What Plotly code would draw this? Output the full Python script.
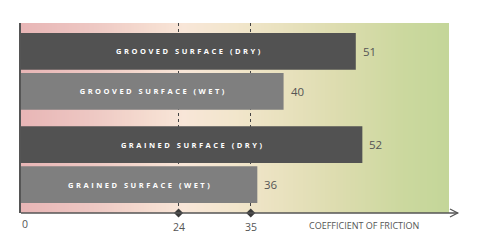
import base64, struct, zlib
import plotly.graph_objects as go

# ---- data ----
groups = ["GROOVED SURFACE", "GRAINED SURFACE"]
conditions = ["DRY", "WET"]
dry_values = [51, 52]
wet_values = [40, 36]
tick_values = [0, 24, 35]
tick_labels = ["0", "24", "35"]
axis_title = "COEFFICIENT OF FRICTION"

# ---- styles ----
DARK = "#525252"
LIGHT = "#7f7f7f"
TXT = "#555555"
FONT = "Open Sans"
XMAX = 65.2


def spaced(s):
    words = s.split(" ")
    return "\u2004 \u2004".join("\u2004".join(w) for w in words)


def gradient_png(stops, n=256):
    def hx(c):
        return [int(c[i:i + 2], 16) for i in (1, 3, 5)]
    row = bytearray()
    for i in range(n):
        t = i / (n - 1)
        for k in range(len(stops) - 1):
            p0, c0 = stops[k]
            p1, c1 = stops[k + 1]
            if p0 <= t <= p1:
                f = (t - p0) / (p1 - p0) if p1 > p0 else 0
                a, b = hx(c0), hx(c1)
                row += bytes(int(round(a[j] + (b[j] - a[j]) * f)) for j in range(3))
                break
    raw = b"\x00" + bytes(row)

    def chunk(tag, data):
        c = struct.pack(">I", len(data)) + tag + data
        return c + struct.pack(">I", zlib.crc32(tag + data) & 0xFFFFFFFF)
    png = b"\x89PNG\r\n\x1a\n" + chunk(b"IHDR", struct.pack(">IIBBBBB", n, 1, 8, 2, 0, 0, 0))
    png += chunk(b"IDAT", zlib.compress(raw)) + chunk(b"IEND", b"")
    return "data:image/png;base64," + base64.b64encode(png).decode()


bg_stops = [(0.0, "#e8b6b6"), (0.15, "#edc6c2"), (0.30, "#f5dcd0"), (0.38, "#f8e6d8"),
            (0.50, "#f2e6cc"), (0.60, "#eae2c0"), (0.75, "#dcdcae"), (0.90, "#cbd89e"),
            (1.0, "#c4d699")]

OFF = 0.215
W = 0.395
fig = go.Figure()

series = [("DRY", dry_values, DARK, -OFF), ("WET", wet_values, LIGHT, OFF)]
for cond, vals, col, off in series:
    ys = [g + off for g in range(len(groups))]
    fig.add_trace(go.Bar(
        orientation="h", x=vals, y=ys, width=W,
        marker=dict(color=col, line=dict(width=0)),
        text=[spaced(f"{g} ({cond})") for g in groups],
        textposition="inside", insidetextanchor="middle",
        textfont=dict(family=FONT, size=7.5, color="white", weight="bold"),
        hoverinfo="skip", showlegend=False,
    ))
    for v, y in zip(vals, ys):
        fig.add_annotation(x=v, y=y, xref="x", yref="y", text=str(v), showarrow=False,
                           xanchor="left", yanchor="middle", xshift=5,
                           font=dict(family=FONT, size=11.5, color=TXT))

# diamonds on the axis at the marked values
marked = [v for v in tick_values if v > 0]
fig.add_trace(go.Scatter(x=marked, y=[1.52] * len(marked), mode="markers",
                         marker=dict(symbol="diamond", size=7, color="#3a3a3a"),
                         cliponaxis=False, hoverinfo="skip", showlegend=False))

for v, lab in zip(tick_values, tick_labels):
    fig.add_annotation(x=v, y=0, xref="x", yref="paper", text=lab, showarrow=False,
                       xanchor="center", yanchor="top", yshift=-5 if v > 0 else -2,
                       xshift=4 if v == 0 else 0,
                       font=dict(family=FONT, size=10.5, color=TXT))

fig.add_annotation(x=(307 - 21 + 56.5) / 428, y=0, xref="paper", yref="paper", text=axis_title,
                   showarrow=False, xanchor="center", yanchor="top", yshift=-4,
                   font=dict(family=FONT, size=9, color=TXT))

# x axis line with open arrow
fig.add_shape(type="line", xref="paper", yref="paper", x0=0, x1=1.0203, y0=0, y1=0,
              line=dict(color="#555555", width=1.6))
fig.add_shape(type="path", xref="paper", yref="paper",
              path="M 1.0023 0.021 L 1.0203 0 L 1.0023 -0.021",
              line=dict(color="#555555", width=1.3))

fig.add_layout_image(source=gradient_png(bg_stops), xref="paper", yref="paper",
                     x=0, y=1, sizex=1, sizey=1, sizing="stretch",
                     xanchor="left", yanchor="top", layer="below")

fig.update_layout(
    width=480, height=241,
    margin=dict(l=21, r=31, t=23, b=28),
    paper_bgcolor="white", plot_bgcolor="rgba(0,0,0,0)",
    barmode="overlay",
    xaxis=dict(range=[0, XMAX], tickvals=marked, showticklabels=False, ticks="",
               showgrid=True, gridcolor="#444444", gridwidth=1, griddash="3px,3px",
               zeroline=False, showline=False, fixedrange=True),
    yaxis=dict(range=[1.52, -0.52], showticklabels=False, ticks="", showgrid=False,
               zeroline=False, showline=True, linecolor="#555555", linewidth=1.5,
               fixedrange=True),
    uniformtext=dict(mode=False),
)

fig.write_html("out.html")
